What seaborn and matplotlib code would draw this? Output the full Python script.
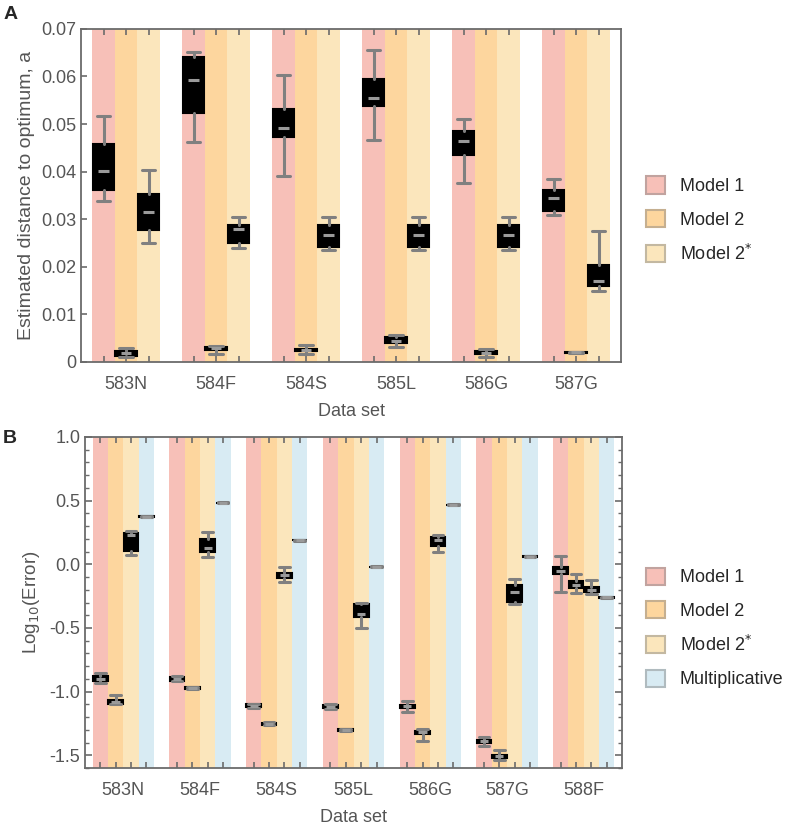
import numpy as np
import matplotlib
matplotlib.use("Agg")
import matplotlib.pyplot as plt
import matplotlib.colors as mcolors
from matplotlib.patches import Patch
from matplotlib.ticker import FixedLocator, MultipleLocator, FuncFormatter
import seaborn as sns

# ---- data: panel A (estimated distance to optimum) ----
datasets_a = ["583N", "584F", "584S", "585L", "586G", "587G"]
models_a = ["Model 1", "Model 2", "Model 2$^{*}$"]

# whisker low, q1, median, q3, whisker high per data set
a_m1_lo = [0.0339, 0.0462, 0.0391, 0.0467, 0.0377, 0.0308]
a_m1_q1 = [0.0362, 0.0524, 0.0472, 0.0538, 0.0434, 0.0317]
a_m1_med = [0.0401, 0.0593, 0.0492, 0.0555, 0.0465, 0.0345]
a_m1_q3 = [0.0459, 0.0640, 0.0531, 0.0594, 0.0486, 0.0362]
a_m1_hi = [0.0517, 0.0652, 0.0603, 0.0656, 0.0510, 0.0385]

a_m2_lo = [0.0011, 0.0017, 0.0016, 0.0032, 0.0011, 0.0019]
a_m2_q1 = [0.0013, 0.0025, 0.0024, 0.0039, 0.0016, 0.0019]
a_m2_med = [0.0018, 0.0029, 0.0026, 0.0045, 0.0019, 0.0020]
a_m2_q3 = [0.0024, 0.0032, 0.0028, 0.0052, 0.0023, 0.0021]
a_m2_hi = [0.0029, 0.0034, 0.0036, 0.0057, 0.0027, 0.0021]

a_m2s_lo = [0.0250, 0.0240, 0.0235, 0.0235, 0.0235, 0.0150]
a_m2s_q1 = [0.0278, 0.0250, 0.0242, 0.0242, 0.0242, 0.0160]
a_m2s_med = [0.0315, 0.0280, 0.0266, 0.0266, 0.0266, 0.0170]
a_m2s_q3 = [0.0352, 0.0287, 0.0287, 0.0287, 0.0287, 0.0203]
a_m2s_hi = [0.0404, 0.0305, 0.0305, 0.0305, 0.0305, 0.0275]

# ---- data: panel B (log10 error) ----
datasets_b = ["583N", "584F", "584S", "585L", "586G", "587G", "588F"]
models_b = ["Model 1", "Model 2", "Model 2$^{*}$", "Multiplicative"]

b_m1_lo = [-0.93, -0.92, -1.125, -1.135, -1.16, -1.425, -0.22]
b_m1_q1 = [-0.92, -0.915, -1.12, -1.13, -1.125, -1.40, -0.075]
b_m1_med = [-0.90, -0.90, -1.11, -1.12, -1.115, -1.39, -0.05]
b_m1_q3 = [-0.88, -0.885, -1.10, -1.105, -1.105, -1.38, -0.02]
b_m1_hi = [-0.85, -0.88, -1.095, -1.10, -1.07, -1.36, 0.065]

b_m2_lo = [-1.10, -0.98, -1.265, -1.31, -1.385, -1.535, -0.225]
b_m2_q1 = [-1.095, -0.978, -1.262, -1.31, -1.33, -1.52, -0.19]
b_m2_med = [-1.08, -0.97, -1.253, -1.30, -1.32, -1.508, -0.16]
b_m2_q3 = [-1.065, -0.962, -1.245, -1.29, -1.31, -1.50, -0.135]
b_m2_hi = [-1.03, -0.96, -1.24, -1.29, -1.295, -1.46, -0.08]

b_m2s_lo = [0.073, 0.057, -0.14, -0.50, 0.10, -0.313, -0.23]
b_m2s_q1 = [0.107, 0.094, -0.11, -0.41, 0.143, -0.294, -0.216]
b_m2s_med = [0.229, 0.130, -0.085, -0.39, 0.19, -0.221, -0.20]
b_m2s_q3 = [0.247, 0.201, -0.07, -0.315, 0.216, -0.161, -0.18]
b_m2s_hi = [0.260, 0.255, -0.02, -0.30, 0.234, -0.112, -0.125]

b_mul_lo = [0.368, 0.478, 0.186, -0.025, 0.462, 0.056, -0.264]
b_mul_q1 = [0.370, 0.480, 0.188, -0.023, 0.464, 0.058, -0.262]
b_mul_med = [0.373, 0.482, 0.190, -0.021, 0.466, 0.060, -0.260]
b_mul_q3 = [0.376, 0.484, 0.192, -0.019, 0.468, 0.062, -0.258]
b_mul_hi = [0.378, 0.486, 0.194, -0.017, 0.470, 0.064, -0.256]

band_colors = ["#f7c0b8", "#fdd69e", "#fbe6bc", "#d8ebf3"]

sns.set_theme(style="ticks")
plt.rcParams["font.family"] = ["Liberation Sans", "DejaVu Sans"]
plt.rcParams["axes.edgecolor"] = "#6b6b6b"
plt.rcParams["xtick.color"] = "#6b6b6b"
plt.rcParams["ytick.color"] = "#6b6b6b"
plt.rcParams["xtick.labelcolor"] = "#555555"
plt.rcParams["ytick.labelcolor"] = "#555555"

TEXT = "#555555"
FS = 13


def stats_list(lo, q1, med, q3, hi):
    return [dict(whislo=a, q1=b, med=c, q3=d, whishi=e, fliers=[])
            for a, b, c, d, e in zip(lo, q1, med, q3, hi)]


def draw_panel(ax, datasets, models, series, ylim, capw, medw, label_offset):
    step = len(models) + 1
    band_pos = []
    for j, (color, st) in enumerate(zip(band_colors, series)):
        pos = np.arange(len(datasets)) * step + j
        band_pos.extend(pos)
        for x in pos:
            ax.axvspan(x - 0.5, x + 0.5, color=color, lw=0, zorder=0)
        ax.bxp(st, positions=pos, widths=0.96, capwidths=capw,
               patch_artist=True, showfliers=False, manage_ticks=False,
               boxprops=dict(facecolor="black", edgecolor="black", lw=1.5),
               whiskerprops=dict(color="#808080", lw=2.2),
               capprops=dict(color="#808080", lw=2.2),
               medianprops=dict(lw=0))
        meds = [s["med"] for s in st]
        ax.hlines(meds, pos - medw / 2, pos + medw / 2, color="#9a9a9a",
                  lw=2.2, zorder=5)
    ax.set_xlim(-1, len(datasets) * step - 1)
    ax.set_ylim(*ylim)
    ax.xaxis.remove_overlapping_locs = False
    ax.xaxis.set_major_locator(FixedLocator(sorted(band_pos)))
    ax.xaxis.set_major_formatter(plt.NullFormatter())
    ax.xaxis.set_minor_locator(
        FixedLocator(np.arange(len(datasets)) * step + label_offset))
    ax.set_xticklabels(datasets, minor=True, fontsize=FS)
    ax.tick_params(axis="x", which="major", direction="in", length=4,
                   width=1.2, top=True, bottom=True)
    ax.tick_params(axis="x", which="minor", length=0, pad=10)
    ax.tick_params(axis="y", labelsize=FS)
    for sp in ax.spines.values():
        sp.set_linewidth(1.3)
    ax.set_xlabel("Data set", fontsize=FS, color=TEXT, labelpad=7)


fig = plt.figure(figsize=(8, 8.36), dpi=100)
axA = fig.add_axes([0.10125, 0.567, 0.675, 0.3985])
axB = fig.add_axes([0.10625, 0.0813, 0.67125, 0.3960])

series_a = [
    stats_list(a_m1_lo, a_m1_q1, a_m1_med, a_m1_q3, a_m1_hi),
    stats_list(a_m2_lo, a_m2_q1, a_m2_med, a_m2_q3, a_m2_hi),
    stats_list(a_m2s_lo, a_m2s_q1, a_m2s_med, a_m2s_q3, a_m2s_hi),
]
draw_panel(axA, datasets_a, models_a, series_a, (0, 0.07), 0.6, 0.45, 1)
axA.yaxis.set_major_locator(MultipleLocator(0.01))
axA.yaxis.set_major_formatter(
    FuncFormatter(lambda v, p: "0" if abs(v) < 1e-9 else f"{v:.2f}"))
axA.tick_params(axis="y", which="major", direction="in", length=4, width=1.2,
                left=True, right=False)
axA.set_ylabel("Estimated distance to optimum, a", fontsize=14, color=TEXT,
               labelpad=4)

series_b = [
    stats_list(b_m1_lo, b_m1_q1, b_m1_med, b_m1_q3, b_m1_hi),
    stats_list(b_m2_lo, b_m2_q1, b_m2_med, b_m2_q3, b_m2_hi),
    stats_list(b_m2s_lo, b_m2s_q1, b_m2s_med, b_m2s_q3, b_m2s_hi),
    stats_list(b_mul_lo, b_mul_q1, b_mul_med, b_mul_q3, b_mul_hi),
]
draw_panel(axB, datasets_b, models_b, series_b, (-1.6, 1.0), 0.7, 0.55, 1.5)
axB.yaxis.set_major_locator(MultipleLocator(0.5))
axB.yaxis.set_minor_locator(MultipleLocator(0.1))
axB.yaxis.set_major_formatter(plt.FormatStrFormatter("%.1f"))
axB.tick_params(axis="y", which="major", direction="in", length=5, width=1.2,
                left=True, right=True)
axB.tick_params(axis="y", which="minor", direction="in", length=3, width=1.0,
                left=True, right=True)
axB.set_ylabel("Log$_{10}$(Error)", fontsize=13.5, color=TEXT, labelpad=5)


def legend_handles(n):
    hs = []
    for c in band_colors[:n]:
        rgb = np.array(mcolors.to_rgb(c))
        edge = 0.55 * rgb + 0.45 * np.array([0.5, 0.5, 0.5])
        hs.append(Patch(facecolor=c, edgecolor=edge, lw=1.5))
    return hs


for ax, models, ycen in [(axA, models_a, 1 - 220 / 836),
                         (axB, models_b, 1 - 628 / 836)]:
    fig.legend(legend_handles(len(models)), models, loc="center left",
               bbox_to_anchor=(0.807, ycen), frameon=False, fontsize=FS,
               handlelength=1.1, handleheight=1.1, handletextpad=0.8,
               labelspacing=0.82, borderpad=0, borderaxespad=0)

fig.text(0.004, 1 - 6 / 836, "A", fontsize=FS + 1, fontweight="bold",
         va="top", ha="left")
fig.text(0.004, 1 - 430 / 836, "B", fontsize=FS + 1, fontweight="bold",
         va="top", ha="left")

fig.savefig("out.png", dpi=100, facecolor="white")
